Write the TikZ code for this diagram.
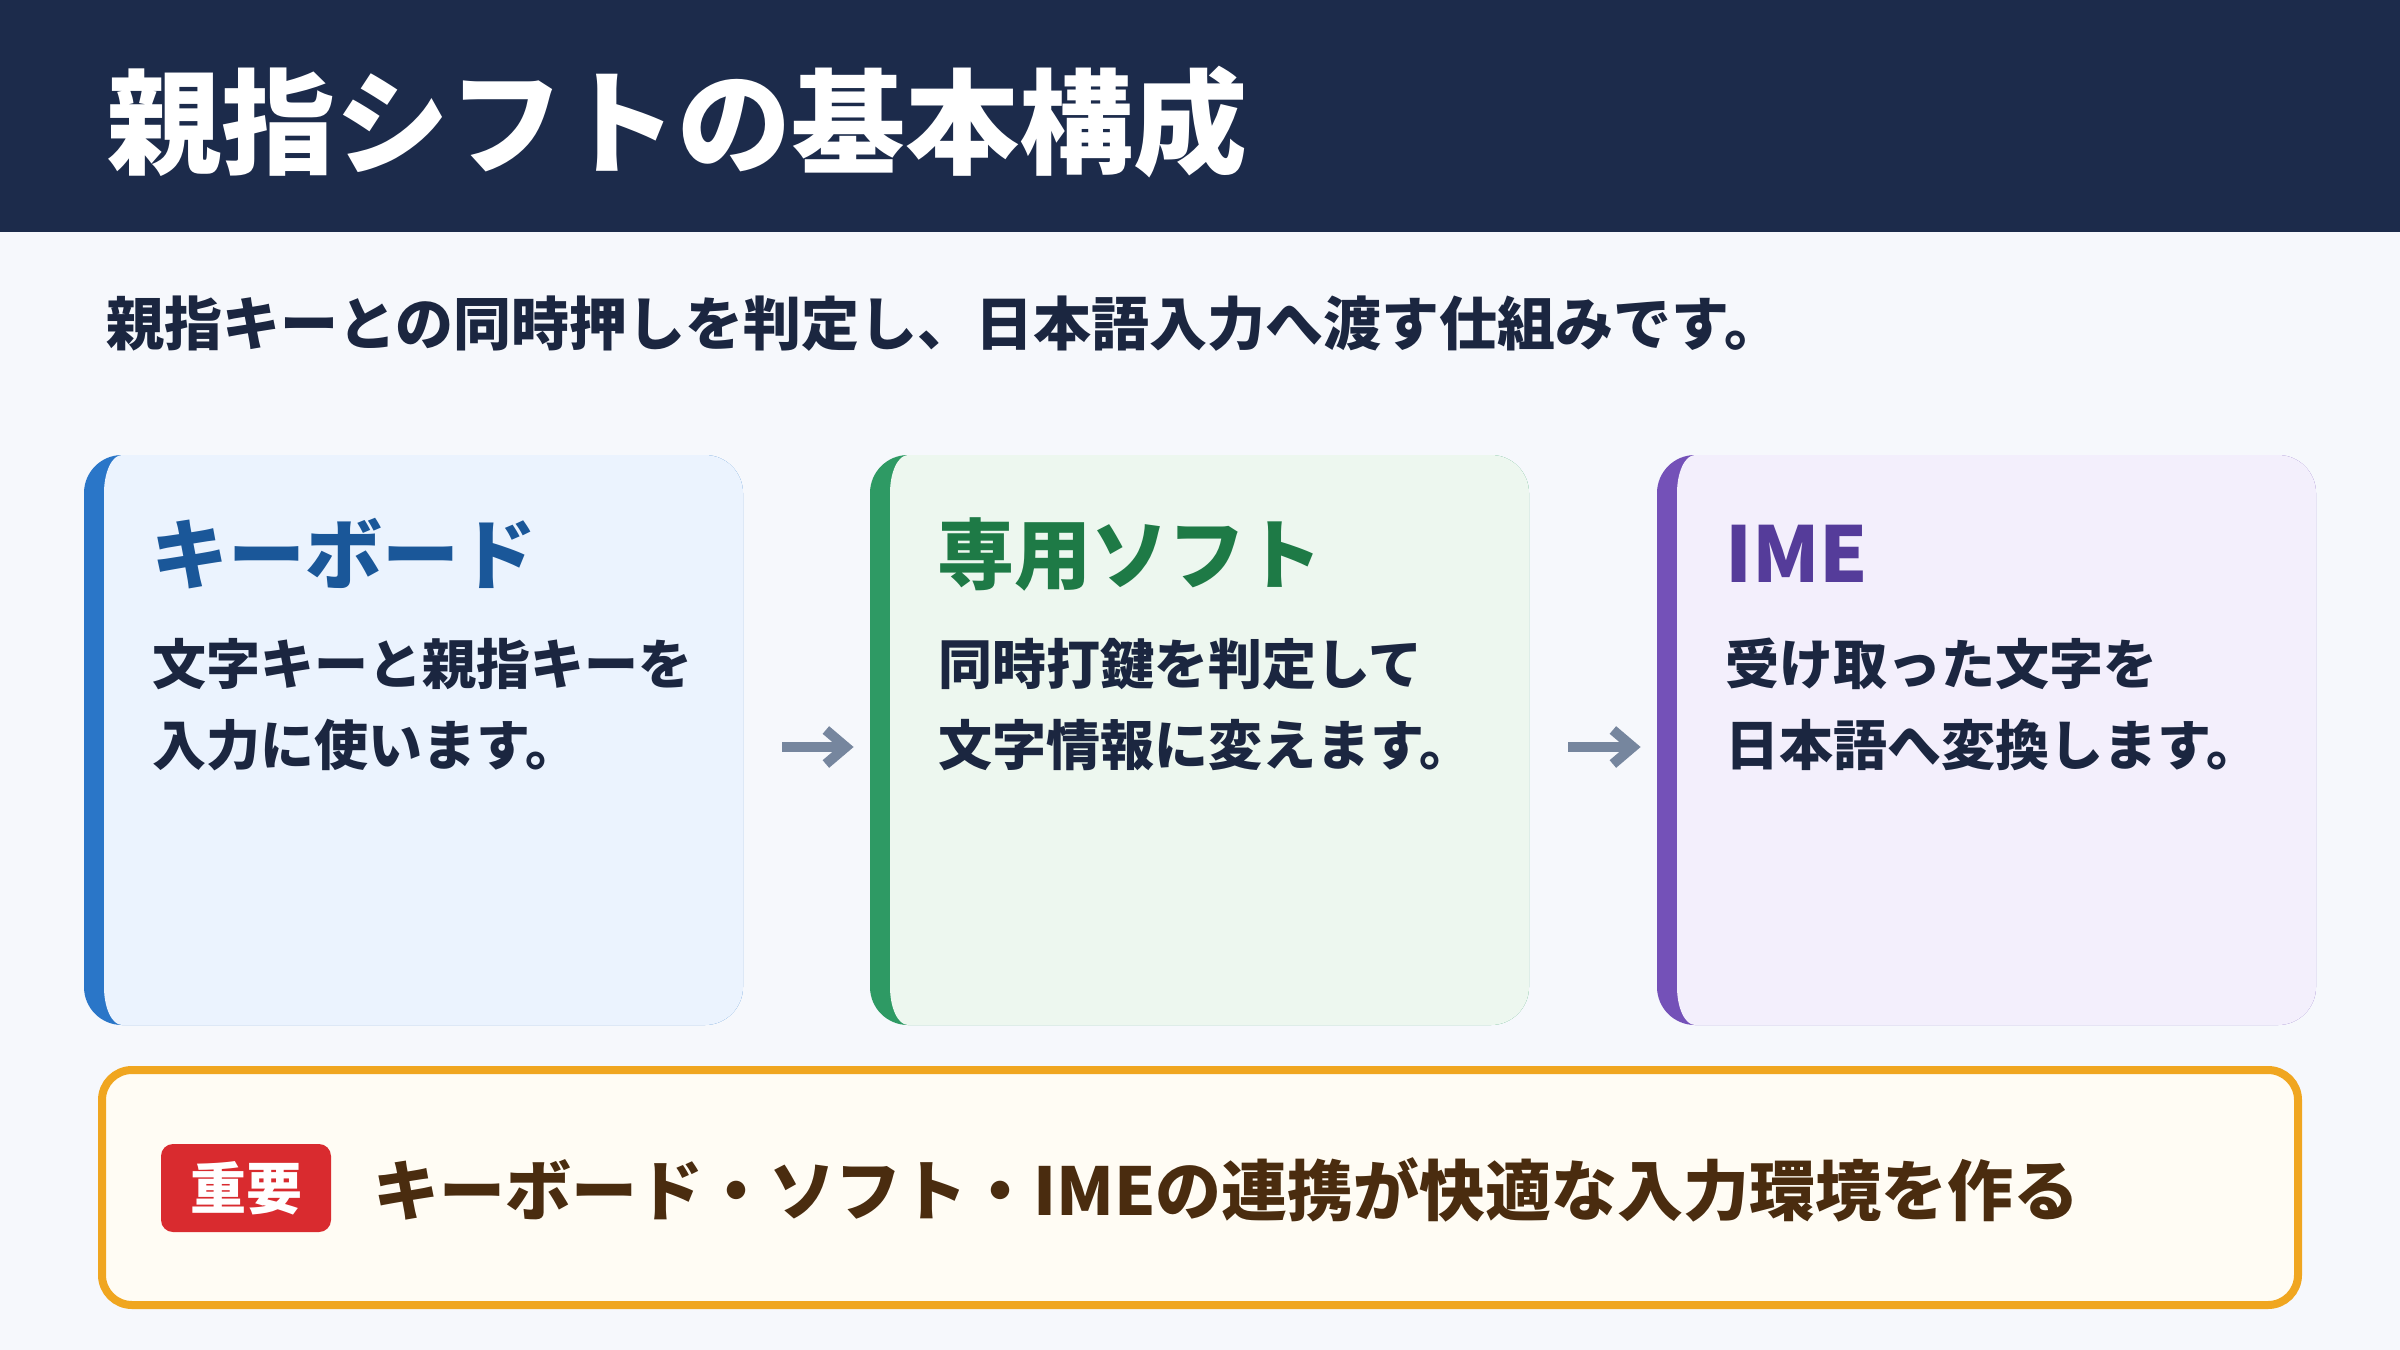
\documentclass[tikz,border=0pt]{standalone}
\usepackage{fontspec}
\setmainfont{Noto Sans CJK JP}
\usetikzlibrary{arrows.meta,fit}
\definecolor{bg}{HTML}{F6F8FC}
\definecolor{head}{HTML}{1C2B4B}
\definecolor{ink}{HTML}{1B2640}
\definecolor{accA}{HTML}{2A76C8}
\definecolor{accB}{HTML}{2E9A64}
\definecolor{accC}{HTML}{7451B8}
\definecolor{fillA}{HTML}{EBF3FE}
\definecolor{fillB}{HTML}{EDF7EF}
\definecolor{fillC}{HTML}{F3EFFC}
\definecolor{ttlA}{HTML}{1A5799}
\definecolor{ttlB}{HTML}{1E7A46}
\definecolor{ttlC}{HTML}{553C9A}
\definecolor{arrowc}{HTML}{76869E}
\definecolor{noteborder}{HTML}{F0A620}
\definecolor{notefill}{HTML}{FFFCF4}
\definecolor{badge}{HTML}{D92B2F}
\definecolor{brown}{HTML}{4A2C0F}
\newcommand\cardshape[3]{% #1 left x, #2 accent, #3 fill
  \fill[#2, rounded corners=19pt] (#1,455) rectangle ++(659,570);
  \fill[#3] (#1+20,493) .. controls (#1+20,472) and (#1+28,455) .. (#1+38,455)
    -- (#1+621,455) .. controls (#1+642,455) and (#1+659,472) .. (#1+659,493)
    -- (#1+659,987) .. controls (#1+659,1008) and (#1+642,1025) .. (#1+621,1025)
    -- (#1+38,1025) .. controls (#1+28,1025) and (#1+20,1008) .. (#1+20,987) -- cycle;
}
\begin{document}
\begin{tikzpicture}[x=0.5pt,y=-0.5pt,
  txt/.style={anchor=west, inner sep=0, font=\bfseries},
  cardttl/.style={txt, font=\fontsize{38.5}{42}\selectfont\bfseries},
  cardbody/.style={txt, text=ink, font=\fontsize{27}{30}\selectfont\bfseries},
  flow/.style={draw=arrowc, line width=5pt, -{Straight Barb[length=10pt,width=17pt]}},
  cardnode/.style={inner sep=0, draw=none}]
\useasboundingbox (0,0) rectangle (2400,1350);
\fill[bg] (0,0) rectangle (2400,1350);
\fill[head] (0,0) rectangle (2400,232);
\node[txt, text=white, font=\fontsize{57}{62}\selectfont\bfseries] (title) at (107,122) {親指シフトの基本構成};
\node[txt, text=ink, font=\fontsize{29}{32}\selectfont\bfseries] (subtitle) at (106,324) {親指キーとの同時押しを判定し、日本語入力へ渡す仕組みです。};

\cardshape{84}{accA}{fillA}
\cardshape{870}{accB}{fillB}
\cardshape{1657}{accC}{fillC}
\coordinate (a1) at (84,455); \coordinate (b1) at (743,1025);
\coordinate (a2) at (870,455); \coordinate (b2) at (1529,1025);
\coordinate (a3) at (1657,455); \coordinate (b3) at (2316,1025);
\node[cardnode, fit=(a1)(b1)] (card1) {};
\node[cardnode, fit=(a2)(b2)] (card2) {};
\node[cardnode, fit=(a3)(b3)] (card3) {};

\node[cardttl, text=ttlA] (t1) at (151,554) {キーボード};
\node[cardbody] (l1a) at (152,664) {文字キーと親指キーを};
\node[cardbody] (l1b) at (152,745) {入力に使います。};

\node[cardttl, text=ttlB] (t2) at (937,554) {専用ソフト};
\node[cardbody] (l2a) at (938,664) {同時打鍵を判定して};
\node[cardbody] (l2b) at (938,745) {文字情報に変えます。};

\node[cardttl, text=ttlC] (t3) at (1725,554) {IME};
\node[cardbody] (l3a) at (1725,664) {受け取った文字を};
\node[cardbody] (l3b) at (1725,745) {日本語へ変換します。};

\draw[flow] ([xshift=19.5pt,yshift=-3.5pt]card1.east) -- ([xshift=-8pt,yshift=-3.5pt]card2.west);
\draw[flow] ([xshift=19.5pt,yshift=-3.5pt]card2.east) -- ([xshift=-8pt,yshift=-3.5pt]card3.west);

\draw[draw=noteborder, fill=notefill, line width=4pt, rounded corners=15pt] (102,1070) rectangle (2298,1305);
\coordinate (n1) at (98,1066); \coordinate (n2) at (2302,1309);
\node[cardnode, fit=(n1)(n2)] (note) {};
\fill[badge, rounded corners=6pt] (161,1144) rectangle (331,1232);
\node[inner sep=0, text=white, font=\fontsize{28}{30}\selectfont\bfseries] (badgetxt) at (246,1188) {重要};
\node[txt, text=brown, font=\fontsize{33}{36}\selectfont\bfseries] (notetxt) at (373,1190) {キーボード・ソフト・IMEの連携が快適な入力環境を作る};
\end{tikzpicture}
\end{document}
